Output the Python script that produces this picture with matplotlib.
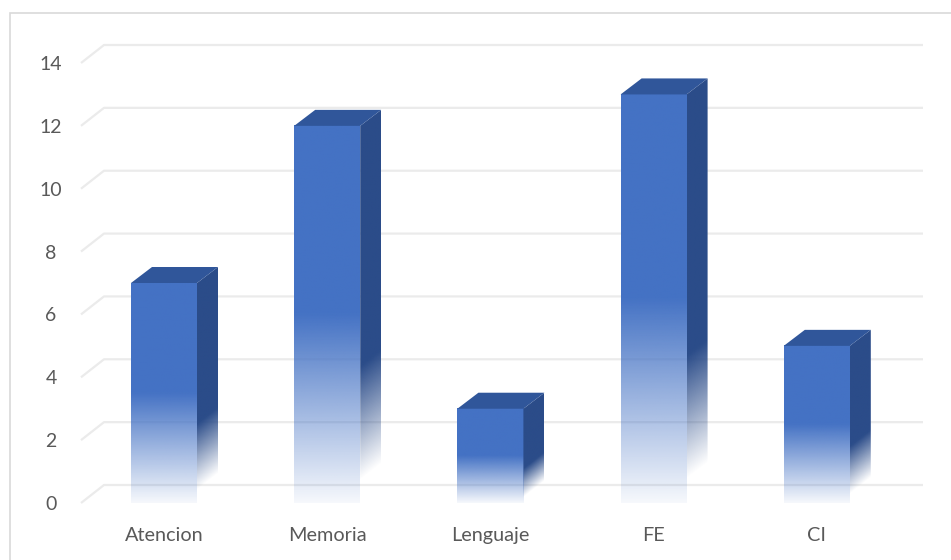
import numpy as np
import matplotlib
matplotlib.use("Agg")
import matplotlib.pyplot as plt
from matplotlib.patches import Polygon, Rectangle
from matplotlib.colors import to_rgb

# ---- data ----
categories = ["Atencion", "Memoria", "Lenguaje", "FE", "CI"]
values = [7, 12, 3, 13, 5]
yticks = [0, 2, 4, 6, 8, 10, 12, 14]

# ---- style ----
FRONT = to_rgb("#4472C4")
SIDE = to_rgb("#2B4C89")
TOP = to_rgb("#30569A")
GRID = "#ebebeb"
TXT = "#595959"
plt.rcParams['font.family'] = ['Lato', 'DejaVu Sans']

W, H = 951, 560
fig = plt.figure(figsize=(W / 100, H / 100), dpi=100)
fig.patch.set_facecolor("white")

# axes placement (pixels): left 81, right 940, value 0 at y=503, 14 at y=63
L, R, B, T = 81, 940, 503, 63
ax = fig.add_axes([L / W, 1 - B / H, (R - L) / W, (B - T) / H])
px_per_cat = 163.2
x0c = 164
ax.set_xlim((L - x0c) / px_per_cat, (R - x0c) / px_per_cat)
ax.set_ylim(0, 14)
for s in ax.spines.values():
    s.set_visible(False)
ax.set_facecolor("none")

ux = 1 / px_per_cat        # data units per pixel in x
uy = 14 / (B - T)          # data units per pixel in y

# wall depth and bar depth
wdx, wdy = 23 * ux, 18 * uy
bdx, bdy = 21 * ux, 16 * uy
bw = 66 * ux
xl = ax.get_xlim()[0]
xr_grid = (923 - x0c) / px_per_cat

# back-wall gridlines
for v in yticks:
    ax.plot([xl, xl + wdx, xr_grid], [v, v + wdy, v + wdy], color=GRID,
            lw=1.6, solid_capstyle="butt", zorder=1, clip_on=False)

# bars
ny = 256
for i, v in enumerate(values):
    x1, x2 = i - bw / 2, i + bw / 2
    # front face gradient
    t = np.linspace(0, 1, ny)  # 0 bottom -> 1 top
    alpha = np.clip(0.05 + (t / 0.5) * 0.95, 0, 1)
    img = np.zeros((ny, 1, 4))
    img[..., :3] = FRONT
    img[:, 0, 3] = alpha
    ax.imshow(img, extent=[x1, x2, 0, v], origin="lower", aspect="auto",
              interpolation="bilinear", zorder=3)
    # side face with gradient following face
    nxs, nys = 40, 300
    xs = np.linspace(x2, x2 + bdx, nxs)
    ys = np.linspace(0, v + bdy, nys)
    X, Y = np.meshgrid(xs, ys)
    base = (X - x2) / bdx * bdy
    tt = (Y - base) / v
    a = np.clip((tt - 0.06) / 0.30, 0, 1)
    simg = np.zeros((nys, nxs, 4))
    simg[..., :3] = SIDE
    simg[..., 3] = a
    im = ax.imshow(simg, extent=[x2, x2 + bdx, 0, v + bdy], origin="lower",
                   aspect="auto", interpolation="bilinear", zorder=3)
    side = Polygon([(x2, 0), (x2 + bdx, bdy), (x2 + bdx, v + bdy), (x2, v)],
                   closed=True, facecolor="none", edgecolor="none")
    ax.add_patch(side)
    im.set_clip_path(side)
    # top face
    ax.add_patch(Polygon([(x1, v), (x2, v), (x2 + bdx, v + bdy), (x1 + bdx, v + bdy)],
                         closed=True, facecolor=TOP, edgecolor="none", zorder=3))

ax.set_xlim((L - x0c) / px_per_cat, (R - x0c) / px_per_cat)
ax.set_ylim(0, 14)

ax.set_yticks(yticks)
ax.set_yticklabels([str(v) for v in yticks], ha="center")
ax.set_xticks(range(len(categories)))
ax.set_xticklabels(categories)
ax.tick_params(axis="y", length=0, pad=21.6, labelsize=14, labelcolor=TXT)
ax.tick_params(axis="x", length=0, pad=17, labelsize=14.3, labelcolor=TXT)

# chart border
fig.add_artist(Rectangle((9.5 / W, -0.1), 1.2, 1 - 12.5 / H + 0.1,
                         transform=fig.transFigure, fill=False,
                         edgecolor="#d9d9d9", lw=1.2))

fig.savefig("out.png", dpi=100, facecolor="white")
